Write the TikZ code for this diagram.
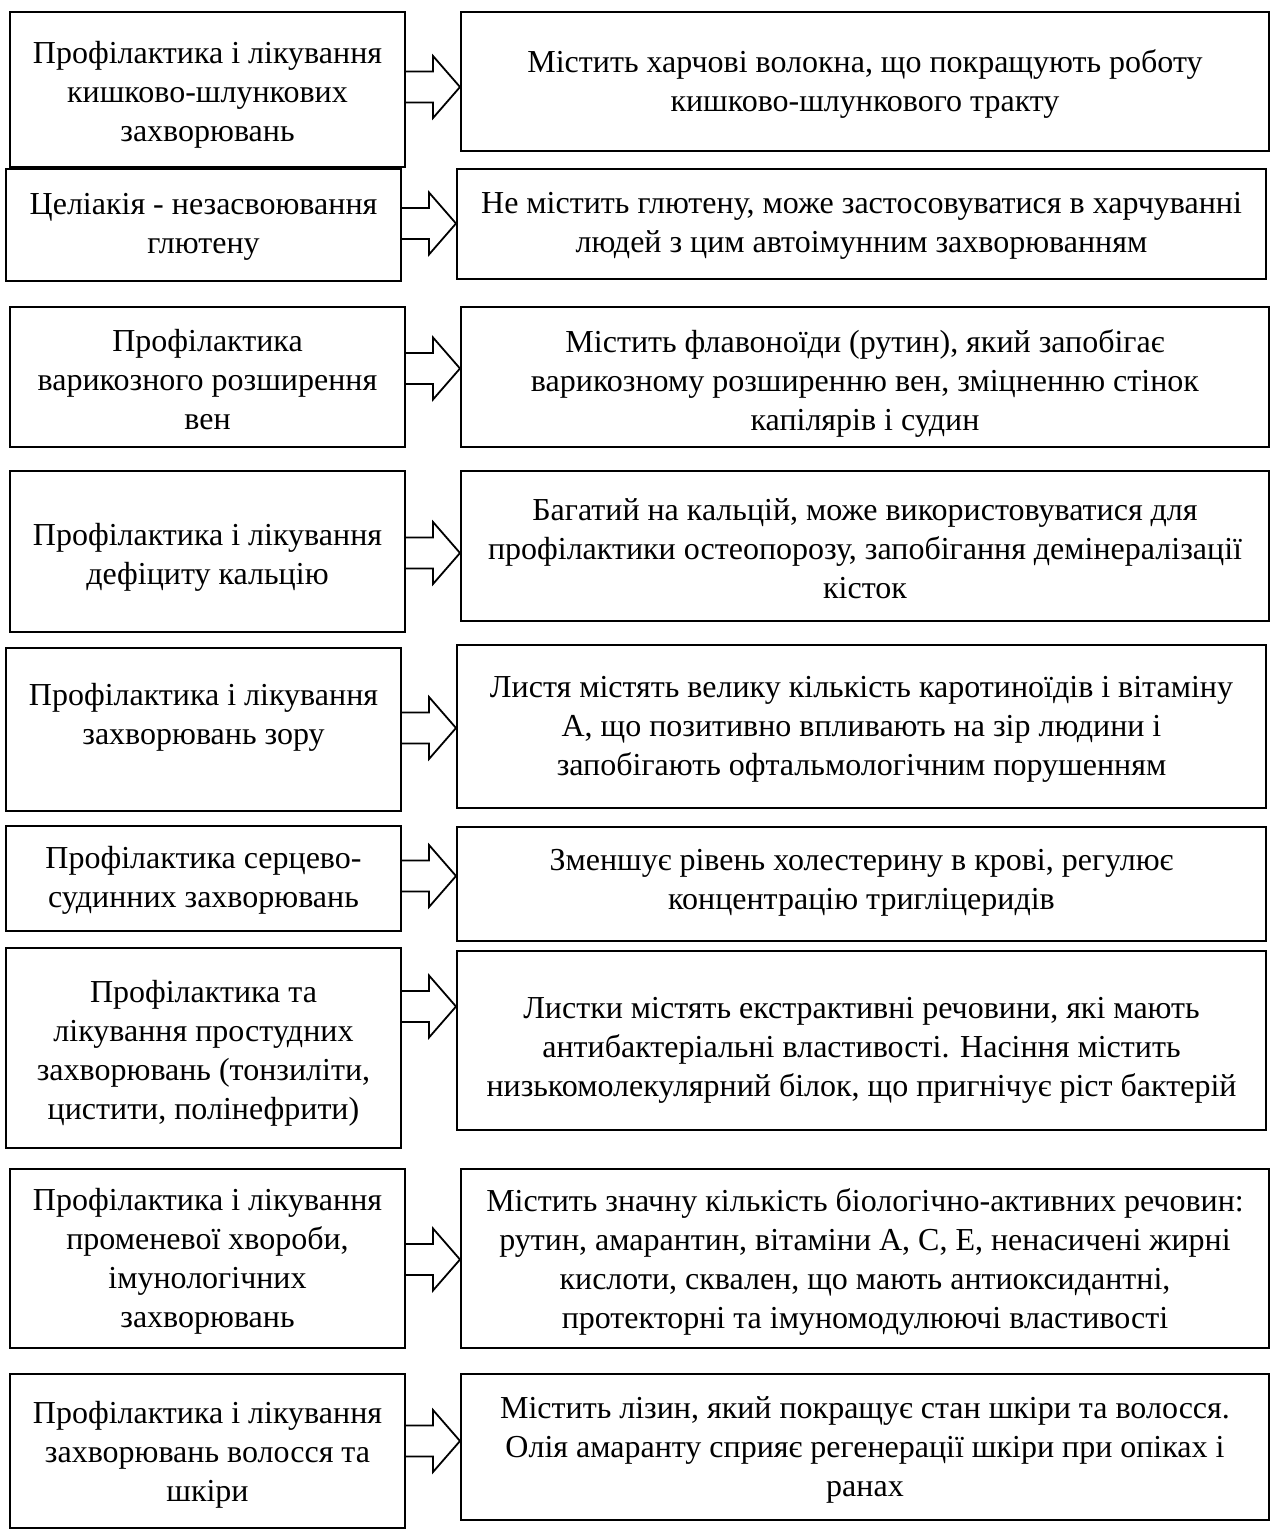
\documentclass[tikz,border=0pt]{standalone}
\usepackage{fontspec}
\setmainfont{Liberation Serif}
\usetikzlibrary{calc,fit}
\newcommand\blkarrow[3]{%
  \coordinate (s) at (#1.east |- 0,#3);
  \coordinate (t) at (#2.west |- 0,#3);
  \draw[barrow] ($(s)+(0,-15.5)$) -- ($(t)+(-27,-15.5)$) -- ($(t)+(-27,-31)$) -- (t)
     -- ($(t)+(-27,31)$) -- ($(t)+(-27,15.5)$) -- ($(s)+(0,15.5)$);
}
% box with text centred in it: name, corner1, corner2, vertical text offset, text
\newcommand\tbox[5]{%
  \node[box,fit={#2 #3}] (#1) {};
  \node[lbl] (#1t) at ($(#1.center)+(0,#4)$) {#5};
}
\begin{document}
\begin{tikzpicture}[x=0.5pt,y=-0.5pt,
  box/.style={draw,line width=1pt,inner sep=0pt},
  lbl/.style={align=center,inner sep=0pt,font=\fontsize{16}{19.5}\selectfont},
  barrow/.style={draw,line width=0.9pt,line join=miter}]
\useasboundingbox (0,0) rectangle (1272,1529);
\fill[white] (0,0) rectangle (1272,1529);
% left column
\tbox{L1}{(10,12)}{(405,167)}{5}{Профілактика і лікування\\кишково-шлункових\\захворювань}
\tbox{L2}{(6,169)}{(401,281)}{2}{Целіакія - незасвоювання\\глютену}
\tbox{L3}{(10,307)}{(405,447)}{3}{Профілактика\\варикозного розширення\\вен}
\tbox{L4}{(10,471)}{(405,632)}{6}{Профілактика і лікування\\дефіциту кальцію}
\tbox{L5}{(6,648)}{(401,811)}{-12}{Профілактика і лікування\\захворювань зору}
\tbox{L6}{(6,826)}{(401,931)}{2}{Профілактика серцево-\\судинних захворювань}
\tbox{L7}{(6,948)}{(401,1148)}{5}{Профілактика та\\лікування простудних\\захворювань (тонзиліти,\\цистити, полінефрити)}
\tbox{L8}{(10,1169)}{(405,1348)}{3}{Профілактика і лікування\\променевої хвороби,\\імунологічних\\захворювань}
\tbox{L9}{(10,1374)}{(405,1528)}{4}{Профілактика і лікування\\захворювань волосся та\\шкіри}
% right column
\tbox{R1}{(461,12)}{(1269,151)}{3}{Містить харчові волокна, що покращують роботу\\кишково-шлункового тракту}
\tbox{R2}{(457,169)}{(1266,279)}{2}{Не містить глютену, може застосовуватися в харчуванні\\людей з цим автоімунним захворюванням}
\tbox{R3}{(461,307)}{(1269,447)}{6}{Містить флавоноїди (рутин), який запобігає\\варикозному розширенню вен, зміцненню стінок\\капілярів і судин}
\tbox{R4}{(461,471)}{(1269,621)}{3}{Багатий на кальцій, може використовуватися для\\профілактики остеопорозу, запобігання демінералізації\\кісток}
\tbox{R5}{(457,645)}{(1266,808)}{3}{Листя містять велику кількість каротиноїдів і вітаміну\\А, що позитивно впливають на зір людини і\\запобігають офтальмологічним порушенням}
\tbox{R6}{(457,827)}{(1266,941)}{-1}{Зменшує рівень холестерину в крові, регулює\\концентрацію тригліцеридів}
\tbox{R7}{(457,951)}{(1266,1130)}{10}{Листки містять екстрактивні речовини, які мають\\антибактеріальні властивості. Насіння містить\\низькомолекулярний білок, що пригнічує ріст бактерій}
\tbox{R8}{(461,1169)}{(1269,1348)}{3}{Містить значну кількість біологічно-активних речовин:\\рутин, амарантин, вітаміни А, С, Е, ненасичені жирні\\кислоти, сквален, що мають антиоксидантні,\\протекторні та імуномодулюючі властивості}
\tbox{R9}{(461,1374)}{(1269,1520)}{3}{Містить лізин, який покращує стан шкіри та волосся.\\Олія амаранту сприяє регенерації шкіри при опіках і\\ранах}
% block arrows
\blkarrow{L1}{R1}{87}
\blkarrow{L2}{R2}{223.5}
\blkarrow{L3}{R3}{368.5}
\blkarrow{L4}{R4}{553}
\blkarrow{L5}{R5}{728}
\blkarrow{L6}{R6}{876}
\blkarrow{L7}{R7}{1006.5}
\blkarrow{L8}{R8}{1259.5}
\blkarrow{L9}{R9}{1441}
\end{tikzpicture}
\end{document}
